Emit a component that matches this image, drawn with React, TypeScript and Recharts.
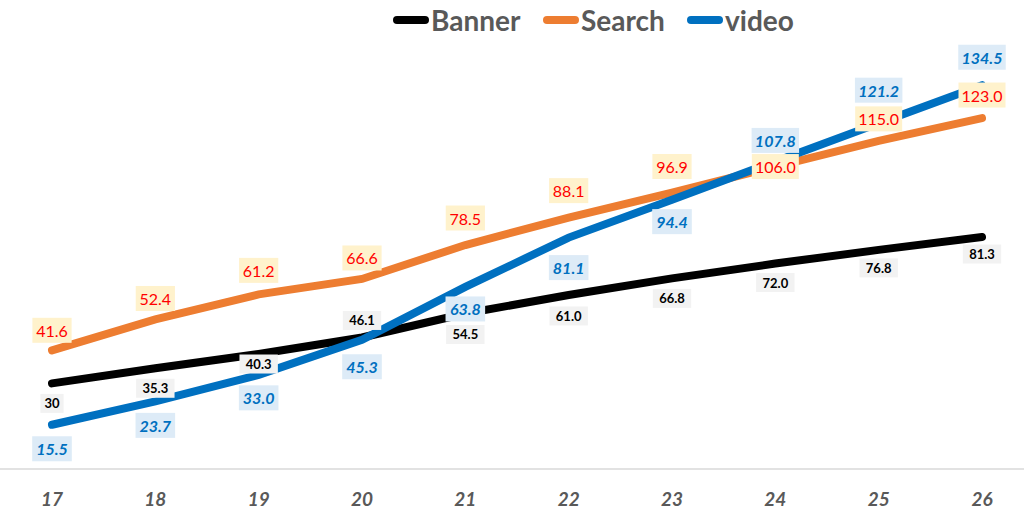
import { LineChart, Line, XAxis, YAxis, LabelList } from 'recharts';

const years = ['17', '18', '19', '20', '21', '22', '23', '24', '25', '26'];
const banner = [30, 35.3, 40.3, 46.1, 54.5, 61.0, 66.8, 72.0, 76.8, 81.3];
const bannerText = ['30', '35.3', '40.3', '46.1', '54.5', '61.0', '66.8', '72.0', '76.8', '81.3'];
const search = [41.6, 52.4, 61.2, 66.6, 78.5, 88.1, 96.9, 106.0, 115.0, 123.0];
const video = [15.5, 23.7, 33.0, 45.3, 63.8, 81.1, 94.4, 107.8, 121.2, 134.5];

// label offsets (px from the point), per year
const bannerDy = [20, 20, 10, -17, 21, 21, 20, 19, 18, 17];
const searchDy = [-20, -21, -24, -21, -27, -27, -26, 0, -22, -23];
const videoDy = [24, 24, 23, 27, 22, 30, 22, -21, -33, -28];

const data = years.map((y, i) => ({
  year: y,
  Banner: banner[i],
  Search: search[i],
  video: video[i],
}));

const FONT = 'Lato, "Open Sans", sans-serif';

const boxLabel = (opts: {
  dy: number[];
  fill: string;
  bg: string;
  size: number;
  weight: number;
  italic?: boolean;
  h: number;
  charW: number;
  text?: string[];
}) => (props: any) => {
  const { x, y, index, value } = props;
  const txt = opts.text ? opts.text[index] : Number(value).toFixed(1);
  const w = txt.length * opts.charW + 8;
  const cy = y + opts.dy[index];
  return (
    <g>
      <rect x={x - w / 2} y={cy - opts.h / 2} width={w} height={opts.h} fill={opts.bg} />
      <text
        x={x}
        y={cy}
        textAnchor="middle"
        dominantBaseline="central"
        fill={opts.fill}
        fontSize={opts.size}
        fontWeight={opts.weight}
        fontStyle={opts.italic ? 'italic' : 'normal'}
        fontFamily={FONT}
      >
        {txt}
      </text>
    </g>
  );
};

const legendItems = [
  { name: 'Banner', color: '#000000', left: 393 },
  { name: 'Search', color: '#ED7D31', left: 543 },
  { name: 'video', color: '#0070C0', left: 687 },
];

export default function App() {
  return (
    <div style={{ position: 'absolute', left: 0, top: 0, width: 1024, height: 526, background: '#fff' }}>
      {legendItems.map((it) => (
        <div
          key={it.name}
          style={{
            position: 'absolute',
            top: 3,
            left: it.left,
            display: 'flex',
            alignItems: 'center',
            fontFamily: FONT,
            fontWeight: 700,
            fontSize: 28,
            color: '#595959',
            whiteSpace: 'nowrap',
          }}
        >
          <div style={{ width: 36, height: 8, borderRadius: 4, background: it.color, marginRight: 2 }} />
          <span>{it.name}</span>
        </div>
      ))}
      <LineChart width={1024} height={526} data={data} margin={{ top: 41, right: 0, bottom: 0, left: 0 }}>
        <XAxis
          dataKey="year"
          height={57}
          padding={{ left: 52, right: 42 }}
          axisLine={{ stroke: '#D9D9D9', strokeWidth: 1.5 }}
          tickLine={false}
          tick={{ fill: '#595959', fontSize: 19, fontWeight: 700, fontStyle: 'italic', fontFamily: FONT }}
          dy={16}
        />
        <YAxis hide domain={[0, 150]} />
        <Line
          dataKey="Banner"
          stroke="#000000"
          strokeWidth={8}
          strokeLinecap="round"
          dot={false}
          isAnimationActive={false}
        >
          <LabelList
            dataKey="Banner"
            content={boxLabel({
              dy: bannerDy,
              fill: '#000',
              bg: '#F2F2F2',
              size: 13,
              weight: 700,
              h: 19,
              charW: 7.6,
              text: bannerText,
            })}
          />
        </Line>
        <Line
          dataKey="Search"
          stroke="#ED7D31"
          strokeWidth={8}
          strokeLinecap="round"
          dot={false}
          isAnimationActive={false}
        >
          <LabelList
            dataKey="Search"
            content={boxLabel({
              dy: searchDy,
              fill: '#FF0000',
              bg: '#FFF2CC',
              size: 16,
              weight: 400,
              h: 25,
              charW: 7.8,
            })}
          />
        </Line>
        <Line
          dataKey="video"
          stroke="#0070C0"
          strokeWidth={8}
          strokeLinecap="round"
          dot={false}
          isAnimationActive={false}
        >
          <LabelList
            dataKey="video"
            content={boxLabel({
              dy: videoDy,
              fill: '#0070C0',
              bg: '#DDEBF7',
              size: 16,
              weight: 700,
              italic: true,
              h: 25,
              charW: 7.9,
            })}
          />
        </Line>
      </LineChart>
    </div>
  );
}
